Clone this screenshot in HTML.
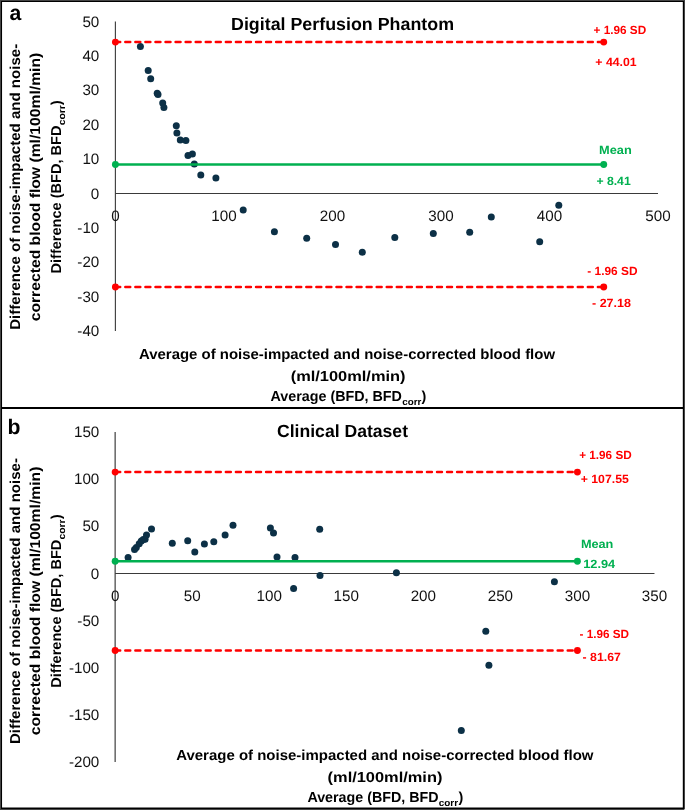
<!DOCTYPE html>
<html><head><meta charset="utf-8"><title>Bland-Altman plots</title>
<style>html,body{margin:0;padding:0;background:#fff;}body{width:685px;height:810px;overflow:hidden;font-family:"Liberation Sans",sans-serif;}svg{display:block;will-change:transform;}</style>
</head><body>
<svg width="685" height="810" viewBox="0 0 685 810" font-family="Liberation Sans, sans-serif" text-rendering="geometricPrecision">
<rect x="0" y="0" width="685" height="810" fill="#ffffff"/>
<rect x="0" y="0" width="685" height="810" fill="#444"/>
<rect x="1" y="1" width="683" height="808" fill="#000"/>
<rect x="2.05" y="2.0" width="680.75" height="805.5" fill="#fff"/>
<rect x="684" y="809" width="1" height="1" fill="#bbb"/>
<line x1="1" y1="407.9" x2="684" y2="407.9" stroke="#000" stroke-width="2.0"/>
<g style="filter:opacity(1)">
<line x1="115.4" y1="21.5" x2="115.4" y2="331.1" stroke="#404040" stroke-width="1.15"/>
<line x1="115.4" y1="193.5" x2="658.0" y2="193.5" stroke="#3a3a3a" stroke-width="1.1"/>
<text x="99.3" y="336.1" font-size="15.2" text-anchor="end" font-weight="normal" fill="#111111">-40</text>
<text x="99.3" y="301.7" font-size="15.2" text-anchor="end" font-weight="normal" fill="#111111">-30</text>
<text x="99.3" y="267.3" font-size="15.2" text-anchor="end" font-weight="normal" fill="#111111">-20</text>
<text x="99.3" y="232.9" font-size="15.2" text-anchor="end" font-weight="normal" fill="#111111">-10</text>
<text x="99.3" y="198.5" font-size="15.2" text-anchor="end" font-weight="normal" fill="#111111">0</text>
<text x="99.3" y="164.1" font-size="15.2" text-anchor="end" font-weight="normal" fill="#111111">10</text>
<text x="99.3" y="129.7" font-size="15.2" text-anchor="end" font-weight="normal" fill="#111111">20</text>
<text x="99.3" y="95.3" font-size="15.2" text-anchor="end" font-weight="normal" fill="#111111">30</text>
<text x="99.3" y="60.9" font-size="15.2" text-anchor="end" font-weight="normal" fill="#111111">40</text>
<text x="99.3" y="26.5" font-size="15.2" text-anchor="end" font-weight="normal" fill="#111111">50</text>
<text x="115.4" y="221.1" font-size="15.2" text-anchor="middle" font-weight="normal" fill="#111111">0</text>
<text x="223.92" y="221.1" font-size="15.2" text-anchor="middle" font-weight="normal" fill="#111111">100</text>
<text x="332.44" y="221.1" font-size="15.2" text-anchor="middle" font-weight="normal" fill="#111111">200</text>
<text x="440.96" y="221.1" font-size="15.2" text-anchor="middle" font-weight="normal" fill="#111111">300</text>
<text x="549.48" y="221.1" font-size="15.2" text-anchor="middle" font-weight="normal" fill="#111111">400</text>
<text x="658.0" y="221.1" font-size="15.2" text-anchor="middle" font-weight="normal" fill="#111111">500</text>
<circle cx="140.4" cy="46.6" r="3.5" fill="#0c3046"/>
<circle cx="148.2" cy="70.5" r="3.5" fill="#0c3046"/>
<circle cx="150.7" cy="78.7" r="3.5" fill="#0c3046"/>
<circle cx="157.2" cy="93.3" r="3.5" fill="#0c3046"/>
<circle cx="158.0" cy="94.5" r="3.5" fill="#0c3046"/>
<circle cx="162.7" cy="103" r="3.5" fill="#0c3046"/>
<circle cx="163.9" cy="107.4" r="3.5" fill="#0c3046"/>
<circle cx="176.3" cy="125.7" r="3.5" fill="#0c3046"/>
<circle cx="176.9" cy="133" r="3.5" fill="#0c3046"/>
<circle cx="180.3" cy="139.9" r="3.5" fill="#0c3046"/>
<circle cx="185.9" cy="140.6" r="3.5" fill="#0c3046"/>
<circle cx="188" cy="155.4" r="3.5" fill="#0c3046"/>
<circle cx="192.4" cy="154" r="3.5" fill="#0c3046"/>
<circle cx="194.3" cy="164" r="3.5" fill="#0c3046"/>
<circle cx="200.8" cy="175" r="3.5" fill="#0c3046"/>
<circle cx="215.9" cy="178.1" r="3.5" fill="#0c3046"/>
<circle cx="243.2" cy="210.1" r="3.5" fill="#0c3046"/>
<circle cx="274.4" cy="231.7" r="3.5" fill="#0c3046"/>
<circle cx="306.7" cy="238.2" r="3.5" fill="#0c3046"/>
<circle cx="335.5" cy="244.6" r="3.5" fill="#0c3046"/>
<circle cx="362.3" cy="252.3" r="3.5" fill="#0c3046"/>
<circle cx="394.8" cy="237.4" r="3.5" fill="#0c3046"/>
<circle cx="433.3" cy="233.5" r="3.5" fill="#0c3046"/>
<circle cx="469.7" cy="232.2" r="3.5" fill="#0c3046"/>
<circle cx="491.3" cy="217.1" r="3.5" fill="#0c3046"/>
<circle cx="539.7" cy="241.7" r="3.5" fill="#0c3046"/>
<circle cx="558.8" cy="205.2" r="3.5" fill="#0c3046"/>
<line x1="115.25" y1="42.11" x2="603.74" y2="42.11" stroke="#ff0000" stroke-width="2.5" stroke-dasharray="4.95 5.105" stroke-linecap="round"/>
<circle cx="115.4" cy="42.11" r="3.45" fill="#ff0000"/>
<circle cx="603.74" cy="42.11" r="3.45" fill="#ff0000"/>
<line x1="114.0" y1="164.57" x2="603.74" y2="164.57" stroke="#00b050" stroke-width="2.55"/>
<circle cx="115.4" cy="164.57" r="3.45" fill="#00b050"/>
<circle cx="603.74" cy="164.57" r="3.45" fill="#00b050"/>
<line x1="115.25" y1="287.0" x2="603.74" y2="287.0" stroke="#ff0000" stroke-width="2.5" stroke-dasharray="4.95 5.105" stroke-linecap="round"/>
<circle cx="115.4" cy="287.0" r="3.45" fill="#ff0000"/>
<circle cx="603.74" cy="287.0" r="3.45" fill="#ff0000"/>
<text x="593.5" y="34.0" font-size="11.9" text-anchor="start" font-weight="bold" fill="#ff0000" textLength="52.7" lengthAdjust="spacingAndGlyphs">+ 1.96 SD</text>
<text x="595.3" y="66.4" font-size="11.9" text-anchor="start" font-weight="bold" fill="#ff0000" textLength="41.4" lengthAdjust="spacingAndGlyphs">+ 44.01</text>
<text x="599.0" y="154.4" font-size="11.9" text-anchor="start" font-weight="bold" fill="#00b050" textLength="32.7" lengthAdjust="spacingAndGlyphs">Mean</text>
<text x="596.4" y="184.9" font-size="11.9" text-anchor="start" font-weight="bold" fill="#00b050" textLength="34.3" lengthAdjust="spacingAndGlyphs">+ 8.41</text>
<text x="587.3" y="275.0" font-size="11.9" text-anchor="start" font-weight="bold" fill="#ff0000" textLength="50.2" lengthAdjust="spacingAndGlyphs">- 1.96 SD</text>
<text x="592.0" y="306.8" font-size="11.9" text-anchor="start" font-weight="bold" fill="#ff0000" textLength="39.0" lengthAdjust="spacingAndGlyphs">- 27.18</text>
<text x="231" y="29.7" font-size="17.6" text-anchor="start" font-weight="bold" fill="#000" textLength="223" lengthAdjust="spacingAndGlyphs">Digital Perfusion Phantom</text>
<text x="9.4" y="20.4" font-size="21.2" text-anchor="start" font-weight="bold" fill="#000">a</text>
<text x="139" y="359.3" font-size="14.4" text-anchor="start" font-weight="bold" fill="#000" textLength="416" lengthAdjust="spacingAndGlyphs">Average of noise-impacted and noise-corrected blood flow</text>
<text x="290.7" y="381.0" font-size="14.4" text-anchor="start" font-weight="bold" fill="#000" textLength="114.8" lengthAdjust="spacingAndGlyphs">(ml/100ml/min)</text>
<text x="270.5" y="401.4" font-size="14.4" text-anchor="start" font-weight="bold" fill="#000" textLength="131.4" lengthAdjust="spacingAndGlyphs">Average (BFD, BFD</text>
<text x="402.2" y="405.0" font-size="9.504000000000001" text-anchor="start" font-weight="bold" fill="#000" textLength="19.1" lengthAdjust="spacingAndGlyphs">corr</text>
<text x="421.6" y="401.4" font-size="14.4" text-anchor="start" font-weight="bold" fill="#000">)</text>
<g transform="translate(19.9,329.8) rotate(-90)"><text x="0" y="0" font-size="14.4" text-anchor="start" font-weight="bold" fill="#000" textLength="286.0" lengthAdjust="spacingAndGlyphs">Difference of noise-impacted and noise-</text></g>
<g transform="translate(40.3,321.3) rotate(-90)"><text x="0" y="0" font-size="14.4" text-anchor="start" font-weight="bold" fill="#000" textLength="268.6" lengthAdjust="spacingAndGlyphs">corrected blood flow (ml/100ml/min)</text></g>
<g transform="translate(61.0,273.5) rotate(-90)"><text x="0" y="0" font-size="14.4" text-anchor="start" font-weight="bold" fill="#000" textLength="148.0" lengthAdjust="spacingAndGlyphs">Difference (BFD, BFD</text><text x="148.3" y="3.6" font-size="9.504000000000001" text-anchor="start" font-weight="bold" fill="#000" textLength="20.0" lengthAdjust="spacingAndGlyphs">corr</text><text x="168.6" y="0" font-size="14.4" text-anchor="start" font-weight="bold" fill="#000">)</text></g>
<line x1="115.15" y1="432.05" x2="115.15" y2="762.1" stroke="#4d4d4d" stroke-width="1.3"/>
<line x1="115.15" y1="573.5" x2="654.4649999999999" y2="573.5" stroke="#3a3a3a" stroke-width="1.1"/>
<text x="99.3" y="767.1" font-size="15.2" text-anchor="end" font-weight="normal" fill="#111111">-200</text>
<text x="99.3" y="719.95" font-size="15.2" text-anchor="end" font-weight="normal" fill="#111111">-150</text>
<text x="99.3" y="672.8" font-size="15.2" text-anchor="end" font-weight="normal" fill="#111111">-100</text>
<text x="99.3" y="625.65" font-size="15.2" text-anchor="end" font-weight="normal" fill="#111111">-50</text>
<text x="99.3" y="578.5" font-size="15.2" text-anchor="end" font-weight="normal" fill="#111111">0</text>
<text x="99.3" y="531.35" font-size="15.2" text-anchor="end" font-weight="normal" fill="#111111">50</text>
<text x="99.3" y="484.2" font-size="15.2" text-anchor="end" font-weight="normal" fill="#111111">100</text>
<text x="99.3" y="437.05" font-size="15.2" text-anchor="end" font-weight="normal" fill="#111111">150</text>
<text x="115.15" y="600.6" font-size="15.2" text-anchor="middle" font-weight="normal" fill="#111111">0</text>
<text x="192.19" y="600.6" font-size="15.2" text-anchor="middle" font-weight="normal" fill="#111111">50</text>
<text x="269.24" y="600.6" font-size="15.2" text-anchor="middle" font-weight="normal" fill="#111111">100</text>
<text x="346.28" y="600.6" font-size="15.2" text-anchor="middle" font-weight="normal" fill="#111111">150</text>
<text x="423.33" y="600.6" font-size="15.2" text-anchor="middle" font-weight="normal" fill="#111111">200</text>
<text x="500.38" y="600.6" font-size="15.2" text-anchor="middle" font-weight="normal" fill="#111111">250</text>
<text x="577.42" y="600.6" font-size="15.2" text-anchor="middle" font-weight="normal" fill="#111111">300</text>
<text x="654.46" y="600.6" font-size="15.2" text-anchor="middle" font-weight="normal" fill="#111111">350</text>
<circle cx="128.1" cy="557.4" r="3.5" fill="#0c3046"/>
<circle cx="134.55" cy="549.5" r="3.5" fill="#0c3046"/>
<circle cx="136.3" cy="547.4" r="3.5" fill="#0c3046"/>
<circle cx="139.2" cy="543.65" r="3.5" fill="#0c3046"/>
<circle cx="141.3" cy="541.0" r="3.5" fill="#0c3046"/>
<circle cx="143.3" cy="539.6" r="3.5" fill="#0c3046"/>
<circle cx="145.1" cy="539.3" r="3.5" fill="#0c3046"/>
<circle cx="146.5" cy="535.1" r="3.5" fill="#0c3046"/>
<circle cx="151.5" cy="529.05" r="3.5" fill="#0c3046"/>
<circle cx="172.3" cy="543.3" r="3.5" fill="#0c3046"/>
<circle cx="187.7" cy="540.7" r="3.5" fill="#0c3046"/>
<circle cx="194.8" cy="551.9" r="3.5" fill="#0c3046"/>
<circle cx="204.4" cy="543.9" r="3.5" fill="#0c3046"/>
<circle cx="213.8" cy="541.7" r="3.5" fill="#0c3046"/>
<circle cx="225.1" cy="534.9" r="3.5" fill="#0c3046"/>
<circle cx="233" cy="525.3" r="3.5" fill="#0c3046"/>
<circle cx="270.4" cy="527.9" r="3.5" fill="#0c3046"/>
<circle cx="273.5" cy="533" r="3.5" fill="#0c3046"/>
<circle cx="277" cy="557.1" r="3.5" fill="#0c3046"/>
<circle cx="295" cy="557.5" r="3.5" fill="#0c3046"/>
<circle cx="293.6" cy="588.4" r="3.5" fill="#0c3046"/>
<circle cx="319.7" cy="529.3" r="3.5" fill="#0c3046"/>
<circle cx="320" cy="575.5" r="3.5" fill="#0c3046"/>
<circle cx="396.4" cy="572.7" r="3.5" fill="#0c3046"/>
<circle cx="554.4" cy="581.7" r="3.5" fill="#0c3046"/>
<circle cx="485.8" cy="631.2" r="3.5" fill="#0c3046"/>
<circle cx="488.9" cy="665.2" r="3.5" fill="#0c3046"/>
<circle cx="461.3" cy="730.6" r="3.5" fill="#0c3046"/>
<line x1="115.25" y1="472.08" x2="577.42" y2="472.08" stroke="#ff0000" stroke-width="2.5" stroke-dasharray="4.95 5.105" stroke-linecap="round"/>
<circle cx="115.15" cy="472.08" r="3.45" fill="#ff0000"/>
<circle cx="577.42" cy="472.08" r="3.45" fill="#ff0000"/>
<line x1="114.0" y1="561.3" x2="577.42" y2="561.3" stroke="#00b050" stroke-width="2.55"/>
<circle cx="115.15" cy="561.3" r="3.45" fill="#00b050"/>
<circle cx="577.42" cy="561.3" r="3.45" fill="#00b050"/>
<line x1="115.25" y1="650.51" x2="577.42" y2="650.51" stroke="#ff0000" stroke-width="2.5" stroke-dasharray="4.95 5.105" stroke-linecap="round"/>
<circle cx="115.15" cy="650.51" r="3.45" fill="#ff0000"/>
<circle cx="577.42" cy="650.51" r="3.45" fill="#ff0000"/>
<text x="579.2" y="459.0" font-size="11.9" text-anchor="start" font-weight="bold" fill="#ff0000" textLength="52.5" lengthAdjust="spacingAndGlyphs">+ 1.96 SD</text>
<text x="580.7" y="483.2" font-size="11.9" text-anchor="start" font-weight="bold" fill="#ff0000" textLength="48.1" lengthAdjust="spacingAndGlyphs">+ 107.55</text>
<text x="580.9" y="548.2" font-size="11.9" text-anchor="start" font-weight="bold" fill="#00b050" textLength="32.5" lengthAdjust="spacingAndGlyphs">Mean</text>
<text x="583.2" y="568.0" font-size="11.9" text-anchor="start" font-weight="bold" fill="#00b050" textLength="32.0" lengthAdjust="spacingAndGlyphs">12.94</text>
<text x="579.5" y="638.0" font-size="11.9" text-anchor="start" font-weight="bold" fill="#ff0000" textLength="49.6" lengthAdjust="spacingAndGlyphs">- 1.96 SD</text>
<text x="582.6" y="661.4" font-size="11.9" text-anchor="start" font-weight="bold" fill="#ff0000" textLength="38.2" lengthAdjust="spacingAndGlyphs">- 81.67</text>
<text x="277" y="436.6" font-size="17.6" text-anchor="start" font-weight="bold" fill="#000" textLength="131" lengthAdjust="spacingAndGlyphs">Clinical Dataset</text>
<text x="7.4" y="433.6" font-size="21.2" text-anchor="start" font-weight="bold" fill="#000">b</text>
<text x="176.2" y="759.6" font-size="14.4" text-anchor="start" font-weight="bold" fill="#000" textLength="417.3" lengthAdjust="spacingAndGlyphs">Average of noise-impacted and noise-corrected blood flow</text>
<text x="327.6" y="781.5" font-size="14.4" text-anchor="start" font-weight="bold" fill="#000" textLength="114.8" lengthAdjust="spacingAndGlyphs">(ml/100ml/min)</text>
<text x="307.4" y="802.0" font-size="14.4" text-anchor="start" font-weight="bold" fill="#000" textLength="131.1" lengthAdjust="spacingAndGlyphs">Average (BFD, BFD</text>
<text x="438.8" y="805.6" font-size="9.504000000000001" text-anchor="start" font-weight="bold" fill="#000" textLength="19.3" lengthAdjust="spacingAndGlyphs">corr</text>
<text x="458.4" y="802.0" font-size="14.4" text-anchor="start" font-weight="bold" fill="#000">)</text>
<g transform="translate(19.9,744.0) rotate(-90)"><text x="0" y="0" font-size="14.4" text-anchor="start" font-weight="bold" fill="#000" textLength="286.0" lengthAdjust="spacingAndGlyphs">Difference of noise-impacted and noise-</text></g>
<g transform="translate(40.3,735.2) rotate(-90)"><text x="0" y="0" font-size="14.4" text-anchor="start" font-weight="bold" fill="#000" textLength="268.6" lengthAdjust="spacingAndGlyphs">corrected blood flow (ml/100ml/min)</text></g>
<g transform="translate(61.0,687.7) rotate(-90)"><text x="0" y="0" font-size="14.4" text-anchor="start" font-weight="bold" fill="#000" textLength="148.0" lengthAdjust="spacingAndGlyphs">Difference (BFD, BFD</text><text x="148.3" y="3.6" font-size="9.504000000000001" text-anchor="start" font-weight="bold" fill="#000" textLength="20.0" lengthAdjust="spacingAndGlyphs">corr</text><text x="168.6" y="0" font-size="14.4" text-anchor="start" font-weight="bold" fill="#000">)</text></g>
</g>
</svg>
</body></html>
